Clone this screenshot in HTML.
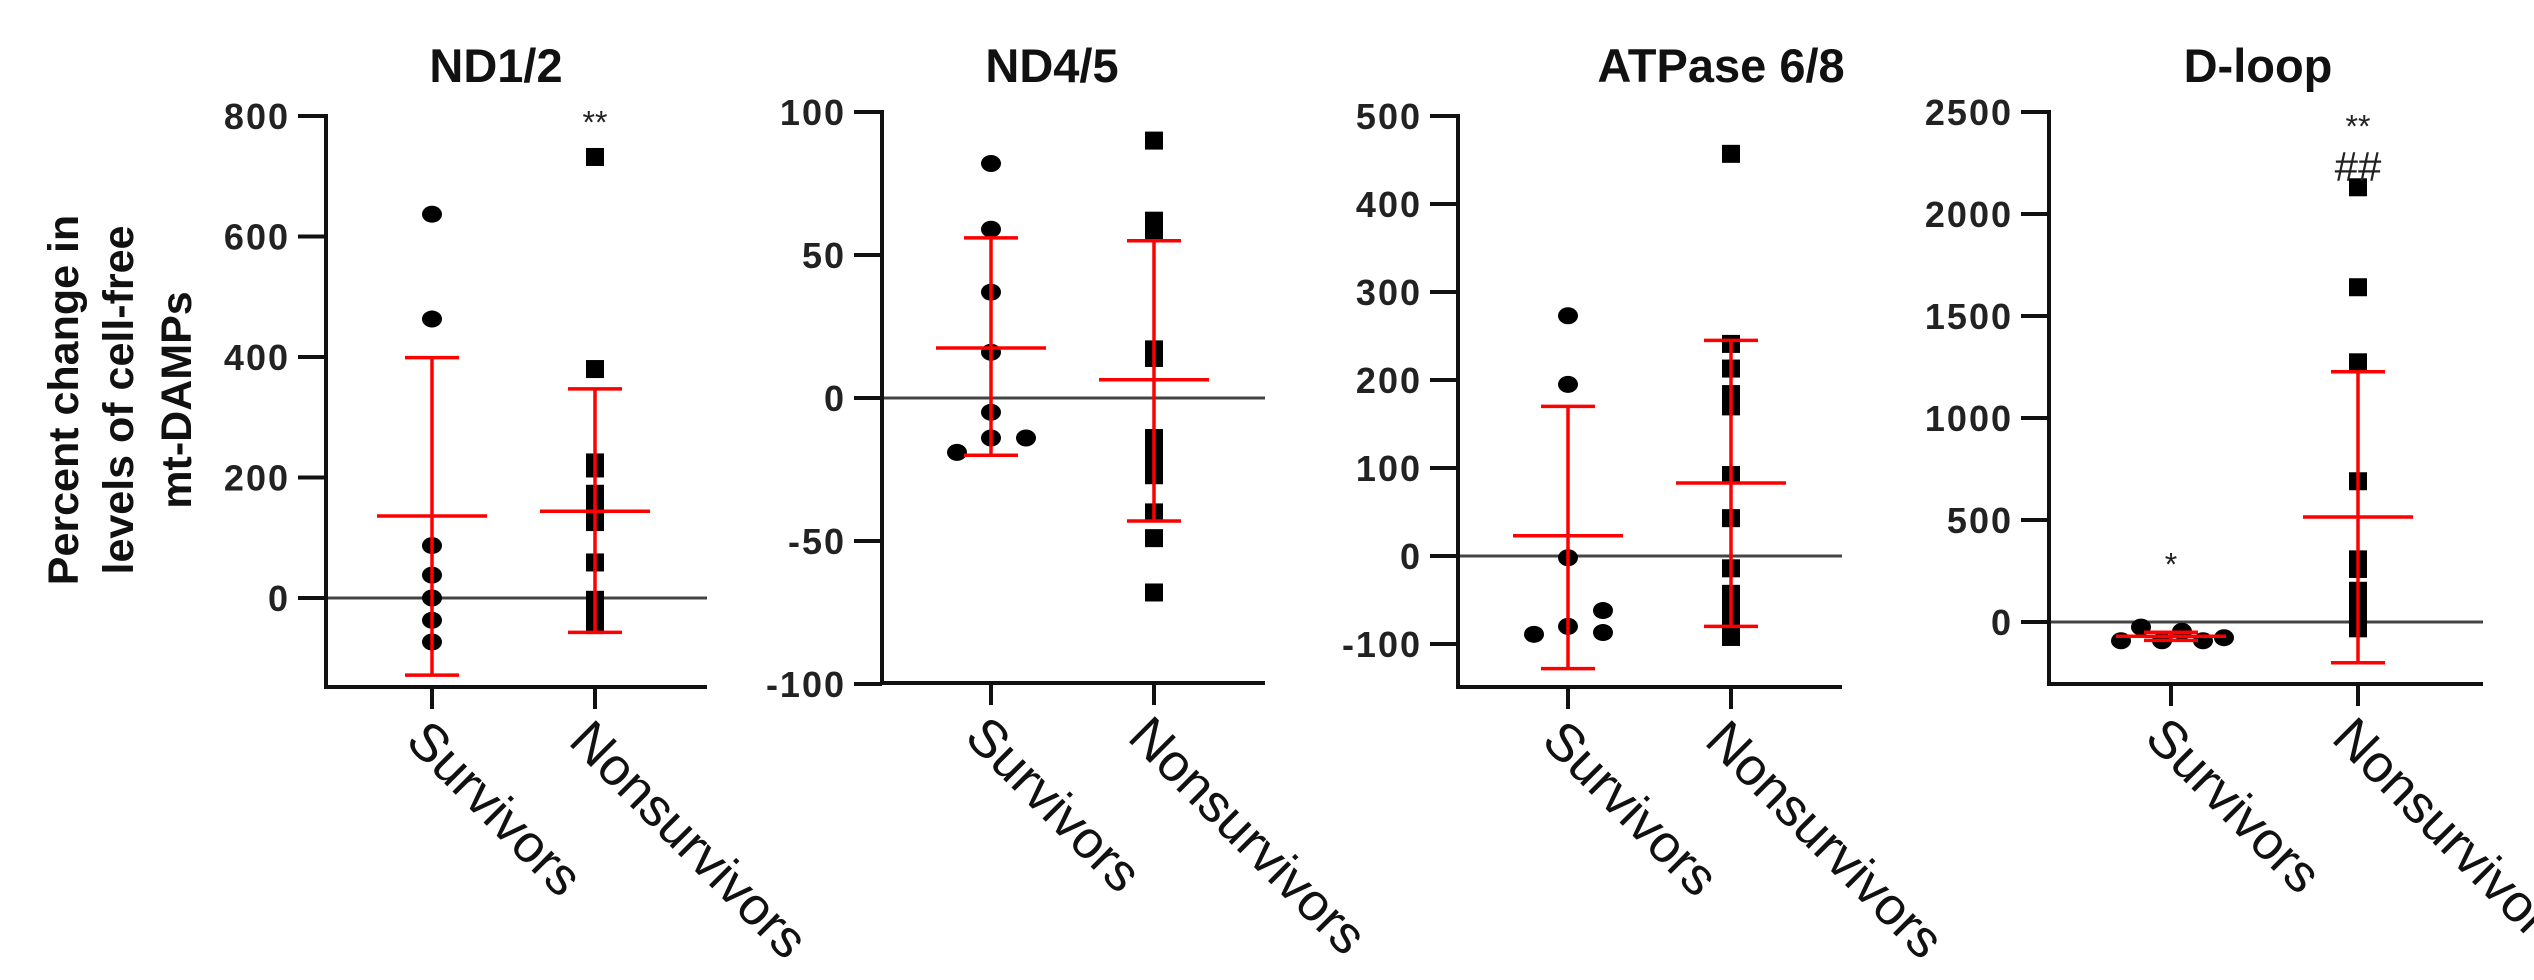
<!DOCTYPE html>
<html><head><meta charset="utf-8"><style>
body{margin:0;background:#fff;}
svg{display:block;font-family:"Liberation Sans",Arial,sans-serif;}
</style></head><body>
<svg id="chart" width="2534" height="980" viewBox="0 0 2534 980">
<g font-weight="bold" font-size="43" text-anchor="middle" fill="#111">
<text transform="translate(78,400) rotate(-90)">Percent change in</text>
<text transform="translate(133,400) rotate(-90)">levels of cell-free</text>
<text transform="translate(191,400) rotate(-90)">mt-DAMPs</text>
</g>
</svg>
<script>
const categories = ["Survivors", "Nonsurvivors"];
const panelTitles = ["ND1/2", "ND4/5", "ATPase 6/8", "D-loop"];
const yTicks1 = [0, 200, 400, 600, 800];
const yTicks2 = [-100, -50, 0, 50, 100];
const yTicks3 = [-100, 0, 100, 200, 300, 400, 500];
const yTicks4 = [0, 500, 1000, 1500, 2000, 2500];
const nd12Surv = [637, 463, 87, 38, 0, -37, -73];
const nd12Non = [732, 380, 225, 215, 173, 160, 142, 126, 59, -3, -19, -34, -45];
const nd12SurvStats = [136, 399, -128];
const nd12NonStats = [144, 347, -57];
const nd45Surv = [82, 59, 37, 16, -5, -14, -14, -19];
const nd45Non = [90, 62, 58, 17, 14, -14, -17, -20, -24, -27, -40, -49, -68];
const nd45SurvStats = [17.5, 56, -20];
const nd45NonStats = [6.4, 55, -43];
const atpSurv = [273, 195, -2, -80, -89, -62, -87];
const atpNon = [457, 241, 213, 184, 170, 92, 43, -14, -43, -53, -64, -78, -92];
const atpSurvStats = [23, 170, -128];
const atpNonStats = [83, 245, -80];
const dloopSurv = [-92, -25, -92, -46, -92, -77];
const dloopNon = [2131, 1641, 1273, 690, 307, 260, 153, 107, 61, 15, -31];
const dloopSurvStats = [-70, -50, -90];
const dloopNonStats = [515, 1227, -200];

const panels = [
 {ax:326,xEnd:707,yTop:116,yZero:598,vTop:800,vZero:0,yBot:687,c:[432,595],title:496,ticks:yTicks1,s:nd12Surv,n:nd12Non,ss:nd12SurvStats,ns:nd12NonStats,jit:[0,0,0,0,0,0,0],marks:[[595,116,"**",32]]},
 {ax:882,xEnd:1265,yTop:112,yZero:398,vTop:100,vZero:0,yBot:683,c:[991,1154],title:1052,ticks:yTicks2,s:nd45Surv,n:nd45Non,ss:nd45SurvStats,ns:nd45NonStats,jit:[0,0,0,0,0,0,35,-34],marks:[]},
 {ax:1458,xEnd:1842,yTop:116,yZero:556,vTop:500,vZero:0,yBot:687,c:[1568,1731],title:1721,ticks:yTicks3,s:atpSurv,n:atpNon,ss:atpSurvStats,ns:atpNonStats,jit:[0,0,0,0,-34,35,35],marks:[]},
 {ax:2049,xEnd:2483,yTop:112,yZero:622,vTop:2500,vZero:0,yBot:684,c:[2171,2358],title:2258,ticks:yTicks4,s:dloopSurv,n:dloopNon,ss:dloopSurvStats,ns:dloopNonStats,jit:[-50,-30,-9,11,32,53],marks:[[2358,120,"**",32],[2358,158,"##",42],[2171,558,"*",32]]}
];
const NS="http://www.w3.org/2000/svg";
const svg=document.getElementById('chart');
function mk(tag,attrs,parent){const e=document.createElementNS(NS,tag);for(const k in attrs)e.setAttribute(k,attrs[k]);parent.appendChild(e);return e;}
panels.forEach((p,i)=>{
 const y=v=>p.yZero+(v-p.vZero)*(p.yTop-p.yZero)/(p.vTop-p.vZero);
 const g=mk('g',{},svg);
 
 
 const t=mk('text',{x:p.title,y:82,'text-anchor':'middle','font-size':47,'font-weight':'bold',fill:'#111'},g);
 t.textContent=panelTitles[i];
 
 
 const z=mk('line',{x1:p.ax-28,x2:p.xEnd,y1:y(0),y2:y(0),stroke:'#444','stroke-width':3},g);
 
 
 const ya=mk('line',{x1:p.ax,x2:p.ax,y1:p.yTop-2,y2:p.yBot+2,stroke:'#111','stroke-width':4},g);
 
 
 const xa=mk('line',{x1:p.ax-2,x2:p.xEnd,y1:p.yBot,y2:p.yBot,stroke:'#111','stroke-width':4},g);
 
 
 p.ticks.forEach(v=>{
  const tk=mk('line',{x1:p.ax-28,x2:p.ax,y1:y(v),y2:y(v),stroke:'#111','stroke-width':4},g);
  
  
  const tl=mk('text',{x:p.ax-36,y:y(v)+13,'text-anchor':'end','font-size':36,'font-weight':'bold',fill:'#222','letter-spacing':2},g);
  tl.textContent=v;
  
  
 });
 categories.forEach((c,j)=>{
  const cx=p.c[j];
  const tk=mk('line',{x1:cx,x2:cx,y1:p.yBot,y2:p.yBot+22,stroke:'#111','stroke-width':4},g);
  
  
  const tl=mk('text',{transform:`translate(${cx-28},${p.yBot+56}) rotate(45)`,'font-size':53,fill:'#111'},g);
  tl.textContent=c;
  
  
  const vals=j===0?p.s:p.n;
  vals.forEach((v,k)=>{
   let m;
   if(j===0){m=mk('ellipse',{cx:cx+(p.jit[k]||0),cy:y(v),rx:10,ry:8.5,fill:'#000'},g);}
   else{m=mk('rect',{x:cx-9,y:y(v)-9,width:18,height:18,fill:'#000'},g);}
   
   
  });
  const st=j===0?p.ss:p.ns;
  const eg=mk('g',{stroke:'#f00','stroke-width':3.5},g);
  
  
  mk('line',{x1:cx,x2:cx,y1:y(st[1]),y2:y(st[2])},eg);
  mk('line',{x1:cx-55,x2:cx+55,y1:y(st[0]),y2:y(st[0])},eg);
  mk('line',{x1:cx-27,x2:cx+27,y1:y(st[1]),y2:y(st[1])},eg);
  mk('line',{x1:cx-27,x2:cx+27,y1:y(st[2]),y2:y(st[2])},eg);
 });
 p.marks.forEach(mm=>{
  const s=mk('text',{x:mm[0],y:mm[1]+mm[3]*0.55,'text-anchor':'middle','font-size':mm[3],fill:'#222'},g);
  s.textContent=mm[2];
  
  
 });
});
</script>
</body></html>
